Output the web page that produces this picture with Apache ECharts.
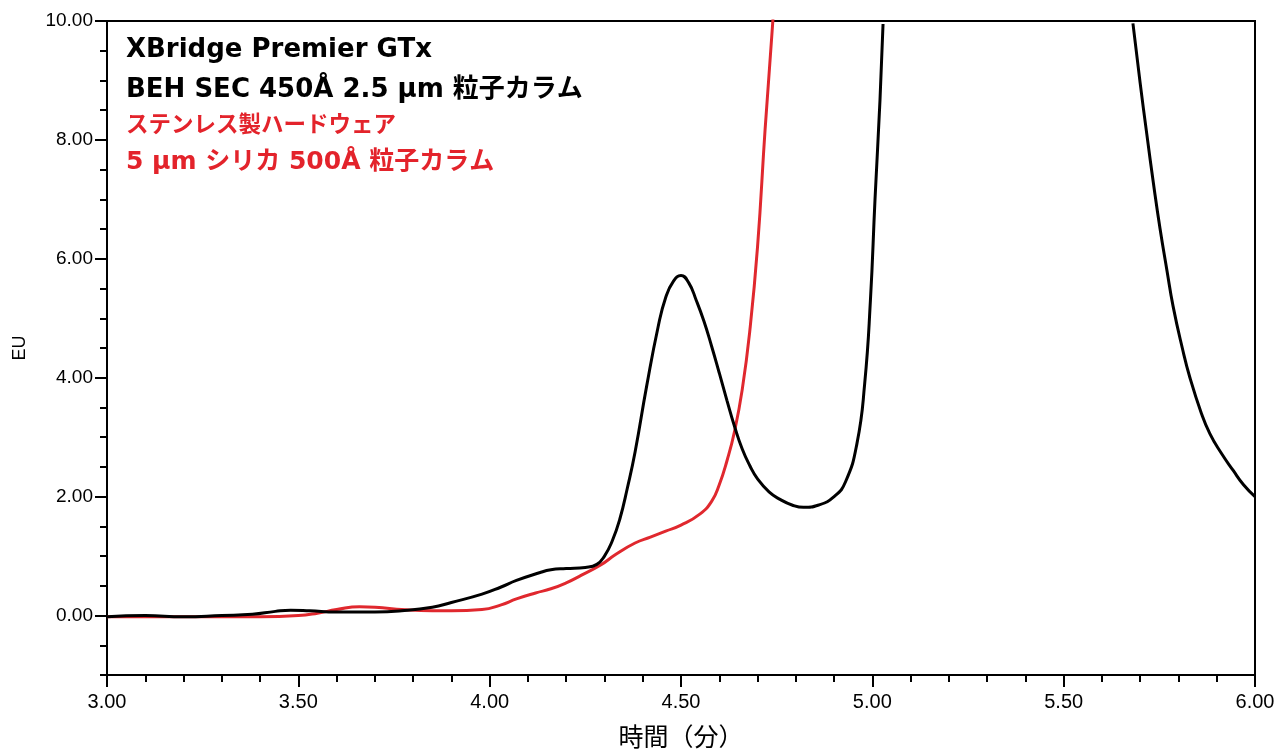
<!DOCTYPE html>
<html>
<head>
<meta charset="utf-8">
<script src="https://cdn.jsdelivr.net/npm/echarts@6/dist/echarts.min.js"></script>
<style>
  html, body { margin: 0; padding: 0; background: #fff; }
  #chart { width: 1278px; height: 750px; }
</style>
</head>
<body>
<div id="chart"></div>
<script>
  // 黒: XBridge Premier GTx BEH SEC 450Å
  var blackTimes = [3.00, 3.10, 3.20, 3.30, 3.38, 3.44, 3.48, 3.53, 3.60, 3.70, 3.77, 3.85, 3.90, 3.98, 4.03, 4.07,
    4.13, 4.16, 4.20, 4.25, 4.28, 4.30, 4.32, 4.34, 4.36, 4.38, 4.41, 4.44, 4.46, 4.48, 4.50, 4.52, 4.54, 4.56,
    4.58, 4.60, 4.62, 4.64, 4.66, 4.68, 4.70, 4.73, 4.76, 4.79, 4.82, 4.86, 4.90, 4.93, 4.96, 4.98, 4.995, 5.007, 5.02, 5.028,
    5.30,
    5.681, 5.70, 5.717, 5.735, 5.752, 5.77, 5.786, 5.81, 5.83, 5.86, 5.882, 5.91, 5.943, 5.97, 6.00]
  var blackValues = [-0.02, 0.00, -0.02, 0.00, 0.02, 0.07, 0.09, 0.08, 0.06, 0.06, 0.08, 0.14, 0.22, 0.36, 0.48, 0.59,
    0.72, 0.77, 0.79, 0.81, 0.86, 1.00, 1.25, 1.62, 2.15, 2.75, 3.85, 4.85, 5.35, 5.62, 5.72, 5.60, 5.30, 4.95,
    4.53, 4.08, 3.62, 3.18, 2.80, 2.52, 2.30, 2.08, 1.95, 1.86, 1.82, 1.86, 2.00, 2.25, 2.90, 3.90, 5.30, 7.00, 8.67, 9.95,
    '-',
    9.96, 8.95, 8.11, 7.25, 6.50, 5.80, 5.20, 4.50, 4.00, 3.40, 3.06, 2.75, 2.44, 2.20, 2.00]

  // 赤: ステンレス製ハードウェア 5 µm シリカ 500Å
  var redTimes = [3.00, 3.20, 3.40, 3.50, 3.55, 3.60, 3.66, 3.72, 3.77, 3.85, 3.90, 3.98, 4.03, 4.07, 4.12, 4.16,
    4.20, 4.24, 4.29, 4.33, 4.38, 4.42, 4.46, 4.50, 4.55, 4.58, 4.60, 4.62, 4.64, 4.66, 4.68, 4.70, 4.72, 4.74, 4.745]
  var redValues = [-0.02, -0.02, -0.02, 0.00, 0.04, 0.10, 0.15, 0.13, 0.10, 0.08, 0.08, 0.10, 0.18, 0.28, 0.38, 0.45,
    0.55, 0.68, 0.85, 1.03, 1.22, 1.32, 1.42, 1.52, 1.71, 1.92, 2.20, 2.60, 3.10, 3.80, 4.80, 6.20, 8.20, 10.00, 10.60]

  var yLabelValues = [0, 2, 4, 6, 8, 10]

  var labelFont = '"Liberation Sans", Arial, sans-serif'
  var noteFont = '"DejaVu Sans", "Noto Sans CJK JP", sans-serif'

  function pairs(xs, ys) {
    return xs.map(function (x, i) { return [x, ys[i]] })
  }

  function noteText(top, text, color, size) {
    return {
      type: 'text',
      left: 126,
      top: top,
      style: { text: text, fill: color, font: 'bold ' + size + 'px ' + noteFont }
    }
  }

  var myChart = echarts.init(document.getElementById('chart'))
  var option = {
    animation: false,
    backgroundColor: '#fff',
    grid: {
      left: 107,
      right: 23,
      top: 21,
      bottom: 75,
      outerBoundsMode: 'none',
      show: true,
      borderColor: '#000',
      borderWidth: 2
    },
    xAxis: {
      type: 'value',
      min: 3,
      max: 6,
      interval: 0.5,
      name: '時間（分）',
      nameLocation: 'middle',
      nameGap: 49,
      nameTextStyle: { color: '#000', fontSize: 25, fontFamily: '"Noto Sans CJK JP", sans-serif' },
      axisLine: { onZero: false, lineStyle: { color: '#000', width: 2 } },
      axisTick: { length: 12, lineStyle: { color: '#000', width: 2 } },
      minorTick: { show: true, splitNumber: 5, length: 7, lineStyle: { color: '#000', width: 2 } },
      axisLabel: {
        margin: 17,
        color: '#000',
        fontSize: 20,
        fontFamily: labelFont,
        formatter: function (v) { return v.toFixed(2) }
      },
      splitLine: { show: false }
    },
    yAxis: [
      {
        // 小目盛り 0.5 ごと
        type: 'value',
        min: -1,
        max: 10,
        interval: 0.5,
        axisLine: { show: true, onZero: false, lineStyle: { color: '#000', width: 2 } },
        axisTick: { length: 7, lineStyle: { color: '#000', width: 2 } },
        axisLabel: { show: false },
        splitLine: { show: false }
      },
      {
        type: 'value',
        min: -1,
        max: 10,
        position: 'left',
        name: 'EU',
        nameLocation: 'middle',
        nameGap: 78,
        nameRotate: 90,
        nameTextStyle: { color: '#000', fontSize: 18, fontFamily: labelFont },
        axisLine: { show: false, onZero: false },
        axisTick: { show: true, customValues: yLabelValues, length: 12, lineStyle: { color: '#000', width: 2 } },
        axisLabel: {
          customValues: yLabelValues,
          margin: 14,
          color: '#000',
          fontSize: 19,
          fontFamily: labelFont,
          formatter: function (v) { return v.toFixed(2) }
        },
        splitLine: { show: false }
      }
    ],
    graphic: [
      noteText(37, 'XBridge Premier GTx', '#000', 26),
      noteText(77, 'BEH SEC 450Å 2.5 µm 粒子カラム', '#000', 26),
      noteText(115, 'ステンレス製ハードウェア', '#e3232b', 22.5),
      noteText(150, '5 µm シリカ 500Å 粒子カラム', '#e3232b', 25)
    ],
    series: [
      {
        name: 'stainless',
        type: 'line',
        yAxisIndex: 0,
        data: pairs(redTimes, redValues),
        showSymbol: false,
        smooth: 0.5,
        clip: true,
        lineStyle: { color: '#e0282e', width: 3 }
      },
      {
        name: 'xbridge',
        type: 'line',
        yAxisIndex: 0,
        data: pairs(blackTimes, blackValues),
        showSymbol: false,
        smooth: 0.5,
        connectNulls: false,
        clip: true,
        lineStyle: { color: '#000', width: 3 }
      }
    ]
  }
  myChart.setOption(option)
</script>
</body>
</html>
